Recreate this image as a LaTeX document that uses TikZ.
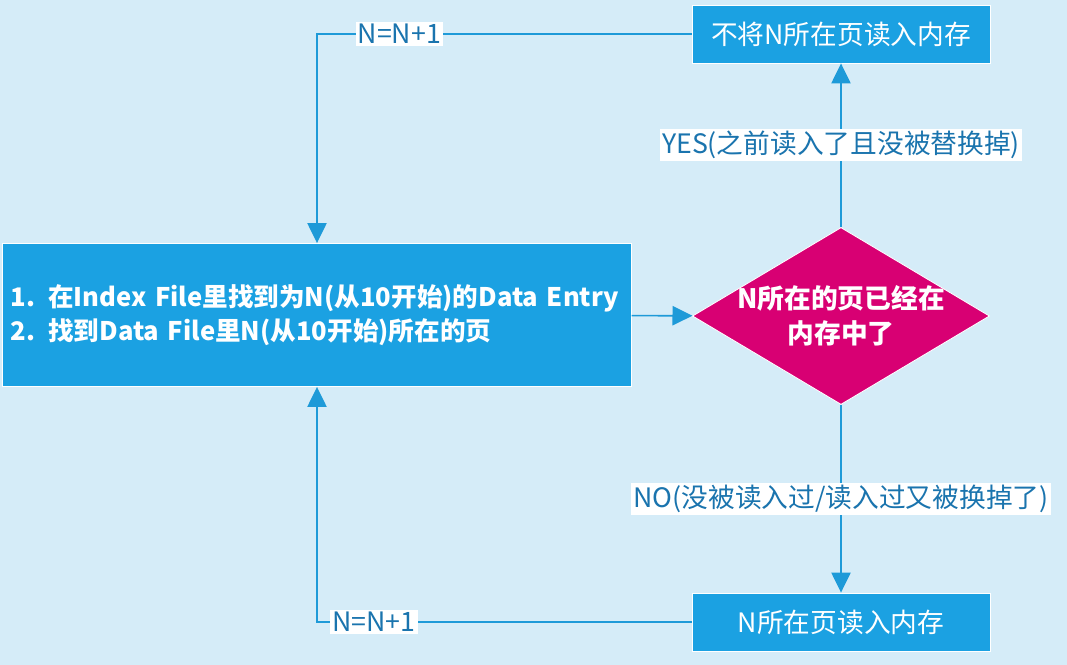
\documentclass[tikz,border=0pt]{standalone}
\usepackage{fontspec}
\setmainfont{Noto Sans CJK SC}
\usetikzlibrary{positioning, arrows.meta, shapes.geometric}

\definecolor{bgblue}{HTML}{D5ECF8}
\definecolor{boxblue}{HTML}{1BA1E2}
\definecolor{lineblue}{HTML}{1E9AD8}
\definecolor{txtblue}{HTML}{1A74AE}
\definecolor{magenta}{HTML}{D80073}

\begin{document}
\begin{tikzpicture}[
    x=0.025cm, y=-0.025cm,
    box/.style = {rectangle, draw=white, line width=0.6pt, fill=boxblue, text=white, align=center,
                  minimum width=7.45cm, minimum height=1.45cm, font=\fontsize{19}{23}\selectfont},
    decide/.style = {diamond, aspect=1.68, draw=white, line width=0.6pt, fill=magenta, text=white, align=center,
                  inner sep=-1.5mm, minimum width=7.425cm, minimum height=4.425cm,
                  font=\bfseries\fontsize{19}{25}\selectfont},
    lbl/.style = {fill=white, text=txtblue, inner sep=1.5pt, font=\fontsize{19}{23}\selectfont},
    arrow/.style = {-{Triangle[length=5mm, width=4.8mm]}, draw=lineblue, line width=1.2pt},
]
    \fill[bgblue] (0,0) rectangle (1067,665);

    \node[box, minimum width=15.7cm, minimum height=3.575cm, align=left, text width=15.3cm,
          font=\bfseries\fontsize{18.2}{24}\selectfont] (FIND) at (317,315)
        {1. 在Index File里找到为N(从10开始)的Data Entry\\2. 找到Data File里N(从10开始)所在的页};
    \node[decide] (INMEM) at (841,316) {N所在的页已经在\\内存中了};
    \node[box] (SKIP) at (841,34) {不将N所在页读入内存};
    \node[box] (LOAD) at (841,622) {N所在页读入内存};

    \draw[arrow] (FIND) -- (INMEM);
    \draw[arrow] (INMEM) -- node[lbl] {YES(之前读入了且没被替换掉)} (SKIP);
    \draw[arrow] (INMEM) -- node[lbl] {NO(没被读入过/读入过又被换掉了)} (LOAD);
    \draw[arrow] (SKIP) -| node[lbl, pos=0.39] {N=N+1} (FIND);
    \draw[arrow] (LOAD) -| node[lbl, pos=0.424] {N=N+1} (FIND);
\end{tikzpicture}
\end{document}
